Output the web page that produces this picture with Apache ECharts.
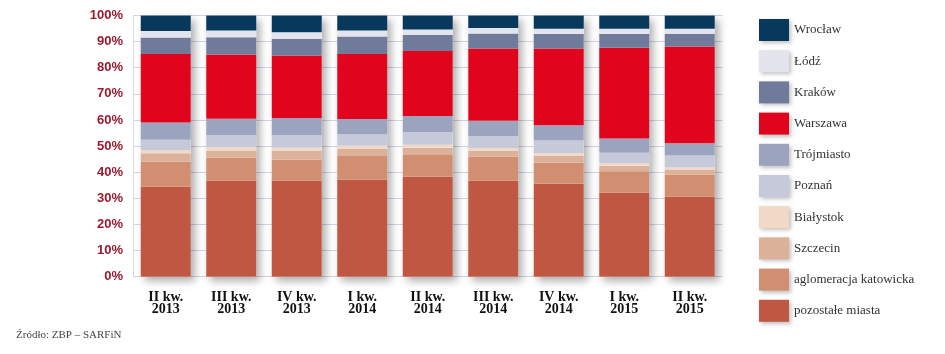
<!DOCTYPE html>
<html><head><meta charset="utf-8">
<script src="https://cdn.jsdelivr.net/npm/echarts@6/dist/echarts.min.js"></script>
<style>html,body{margin:0;padding:0;background:#fff}#c{width:945px;height:354px}</style>
</head><body><div id="c"></div>
<script>
const categories = ['II kw.\n2013','III kw.\n2013','IV kw.\n2013','I kw.\n2014','II kw.\n2014','III kw.\n2014','IV kw.\n2014','I kw.\n2015','II kw.\n2015'];
const yTicks = [0,10,20,30,40,50,60,70,80,90,100];
// stack order bottom -> top
const pozostale   = [34.5,36.8,36.8,37.2,38.3,36.8,35.6,32.2,30.7];
const katowicka   = [9.6, 8.8, 8.0, 9.0, 8.3, 9.2, 8.1, 8.2, 8.4];
const szczecin    = [3.2, 2.7, 3.5, 2.7, 2.8, 2.3, 2.7, 2.1, 1.9];
const bialystok   = [1.0, 1.3, 1.1, 1.2, 1.1, 1.0, 0.9, 0.9, 0.8];
const poznan      = [4.1, 4.6, 4.8, 4.3, 4.9, 4.6, 4.8, 4.1, 4.6];
const trojmiasto  = [6.6, 6.3, 6.6, 6.0, 6.1, 5.8, 5.9, 5.4, 4.7];
const warszawa    = [26.3,24.6,23.9,24.9,24.9,27.7,29.4,34.8,37.0];
const krakow      = [6.3, 6.6, 6.4, 6.7, 6.1, 5.7, 5.5, 5.2, 4.9];
const lodz        = [2.5, 2.6, 2.5, 2.3, 2.1, 2.1, 2.0, 2.0, 1.9];
const wroclaw     = [5.9, 5.7, 6.4, 5.7, 5.4, 4.8, 5.1, 5.1, 5.1];
const totals      = [100,100,100,100,100,100,100,100,100];

const seriesDefs = [
  ['pozostałe miasta', pozostale, '#bf5742'],
  ['aglomeracja katowicka', katowicka, '#d18e71'],
  ['Szczecin', szczecin, '#dcb199'],
  ['Białystok', bialystok, '#f2d9c6'],
  ['Poznań', poznan, '#c6c9da'],
  ['Trójmiasto', trojmiasto, '#9ca3bf'],
  ['Warszawa', warszawa, '#e0051d'],
  ['Kraków', krakow, '#707a9a'],
  ['Łódź', lodz, '#e3e4ee'],
  ['Wrocław', wroclaw, '#08395d']
];

const chart = echarts.init(document.getElementById('c'));
const series = [{
  name: '_shadow', type: 'bar', data: totals, barWidth: 50, z: 1, silent: true,
  itemStyle: { color: '#ffffff', shadowColor: 'rgba(0,0,0,0.32)', shadowBlur: 8, shadowOffsetX: 4, shadowOffsetY: 4 }
}].concat(seriesDefs.map(([n, d, c]) => ({
  name: n, type: 'bar', stack: 'all', data: d, barWidth: 50, barGap: '-100%', z: 2,
  itemStyle: { color: c }
})));

chart.setOption({
  animation: false,
  title: {
    text: 'Źródło: ZBP – SARFiN', left: 16, top: 330, padding: 0,
    textStyle: { fontFamily: 'Liberation Serif', fontSize: 11, fontWeight: 'normal', color: '#444' }
  },
  grid: { left: 133, right: 945 - 722.5, top: 15.5, bottom: 354 - 276.7 },
  legend: {
    data: seriesDefs.map(s => s[0]).reverse(),
    orient: 'vertical', left: 759, top: 19, padding: 0,
    itemWidth: 30, itemHeight: 22, itemGap: 9.2,
    selectedMode: false, icon: 'rect',
    itemStyle: { shadowColor: 'rgba(0,0,0,0.25)', shadowBlur: 4, shadowOffsetX: 2, shadowOffsetY: 2 },
    textStyle: { fontFamily: 'Liberation Serif', fontSize: 13, color: '#333', padding: [0,0,0,0] }
  },
  xAxis: {
    type: 'category', data: categories,
    axisLine: { show: false }, axisTick: { show: false },
    axisLabel: { fontFamily: 'Liberation Serif', fontWeight: 'bold', fontSize: 14, lineHeight: 12, color: '#111', margin: 15, interval: 0 }
  },
  yAxis: {
    type: 'value', min: yTicks[0], max: yTicks[yTicks.length - 1], interval: 10,
    axisLine: { show: true, lineStyle: { color: '#d8d8e6' } },
    axisTick: { show: false },
    splitLine: { lineStyle: { color: '#d3d3e3', width: 1 } },
    axisLabel: { formatter: '{value}%', fontFamily: 'Liberation Sans', fontWeight: 'bold', fontSize: 13, color: '#9a1b2f', margin: 10 }
  },
  series: series
});
</script></body></html>
